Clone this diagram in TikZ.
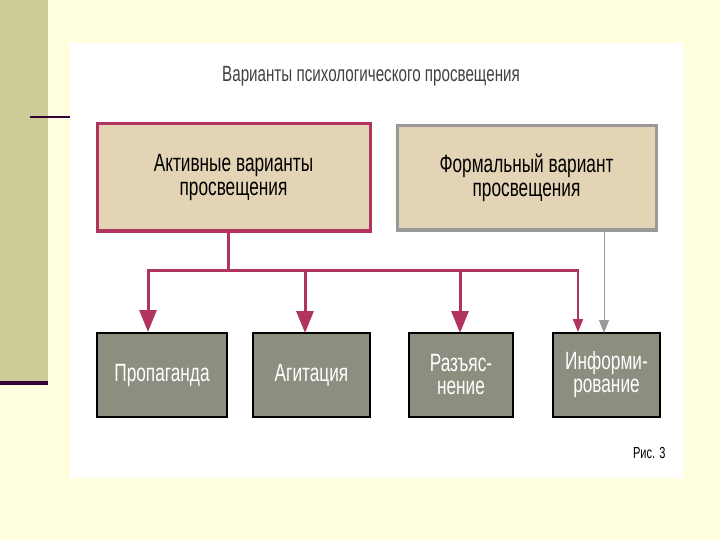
\documentclass[tikz,border=0pt]{standalone}
\usepackage{fontspec}
\setmainfont{Liberation Sans}[FakeStretch=0.69]
\usetikzlibrary{arrows.meta}
\definecolor{bgcream}{HTML}{FFFFE0}
\definecolor{olive}{HTML}{CCCC99}
\definecolor{darkplum}{HTML}{330033}
\definecolor{maroon}{HTML}{B0345E}
\definecolor{beige}{HTML}{E4D4B6}
\definecolor{boxgray}{HTML}{8E8E80}
\definecolor{edgegray}{HTML}{9A9A9A}
\tikzset{
  x=1pt,y=-1pt,
  topbox/.style={draw, line width=3pt, fill=beige, minimum width=#1, font=\fontsize{25}{24}\selectfont, align=center, inner sep=0pt},
  lowbox/.style={draw=black, line width=2pt, fill=boxgray, text=white, minimum height=84pt, minimum width=#1, font=\fontsize{25}{23}\selectfont, align=center, inner sep=0pt},
  redline/.style={draw=maroon, line width=3pt},
  redarrow/.style={draw=maroon, line width=3pt, -{Triangle[length=22pt,width=17pt]}},
  redarrowsmall/.style={draw=maroon, line width=2pt, -{Triangle[length=13pt,width=10pt]}},
  grayarrow/.style={draw=edgegray, line width=1pt, -{Triangle[length=13pt,width=10pt]}},
}
\begin{document}
\begin{tikzpicture}
\useasboundingbox (0,0) rectangle (720,540);
\fill[bgcream] (0,0) rectangle (720,540);
\fill[olive] (0,0) rectangle (48,383);
\fill[darkplum] (0,381) rectangle (48,385);
\draw[darkplum, line width=1.2pt] (30,117) -- (72,117);
\draw[darkplum, line width=1.2pt] (682,113) -- (682,121);
\fill[white] (70,43) rectangle (683,478);

\node[font=\fontsize{22}{24}\selectfont, text=black!75] (title) at (371,76) {Варианты психологического просвещения};

\node[topbox=273pt, minimum height=107pt, draw=maroon] (act) at (233.5,177.5) {Активные варианты\\просвещения};
\node[topbox=259pt, minimum height=104pt, draw=edgegray] (form) at (526.5,178) {Формальный вариант\\просвещения};

\node[lowbox=130pt] (prop) at (162,375) {Пропаганда};
\node[lowbox=117pt] (agit) at (311.5,375) {Агитация};
\node[lowbox=104pt] (razy) at (461,375) {Разъяс-\\нение};
\node[lowbox=107pt] (info) at (606.5,375) {Информи-\\рование};

\coordinate (j) at (228,270);
\coordinate (jl) at (148,270);
\coordinate (jr) at (578,270);
\draw[redline] (act.south -| j) -- (j);
\draw[redline] ([xshift=-1.5pt]jl) -- ([xshift=1pt]jr);
\draw[redarrow] (jl) -- (jl |- prop.north);
\draw[redarrow] (305,270) -- (305,333);
\draw[redarrow] (460,270) -- (460,333);
\draw[redarrowsmall] (jr) -- (jr |- info.north);
\draw[grayarrow] (604,231) -- (604,333);

\node[font=\fontsize{16}{17}\selectfont, anchor=east] (fig) at (669,453) {Рис. 3};
\end{tikzpicture}
\end{document}
